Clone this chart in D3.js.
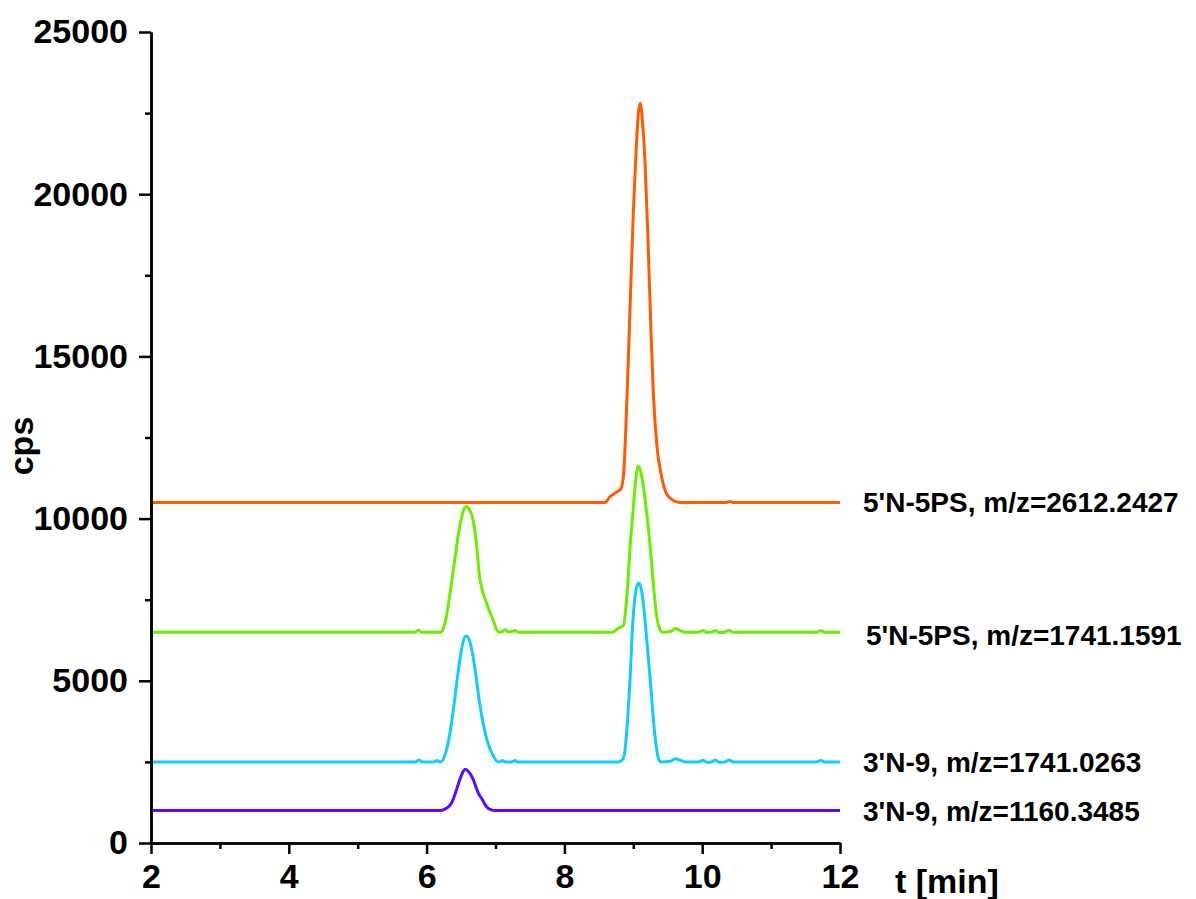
<!DOCTYPE html>
<html>
<head>
<meta charset="utf-8">
<script src="https://cdn.jsdelivr.net/npm/d3@7"></script>
<style>
  body { margin: 0; background: #fff; }
  text { font-family: Arial, "Liberation Sans", sans-serif; font-weight: bold; fill: #000; }
</style>
</head>
<body>
<div id="chart"></div>
<script>

// Data (t in min, intensity in cps)

var seriesNames = [
  "5'N-5PS, m/z=2612.2427",
  "5'N-5PS, m/z=1741.1591",
  "3'N-9, m/z=1741.0263",
  "3'N-9, m/z=1160.3485"
];

var seriesColors = ["#ff5a00", "#6aee00", "#0fcdfa", "#5a0aff"];

var orange2612 = [
  [2, 10500], [8.59, 10500], [8.66, 10675], [8.76, 10820], [8.82, 10920], [8.86, 11396],
  [8.90, 13246], [8.95, 16328], [9.00, 19411], [9.04, 21300], [9.07, 22400], [9.10, 22800],
  [9.13, 22300], [9.17, 21000], [9.21, 18800], [9.25, 16200], [9.29, 13900], [9.34, 12300],
  [9.41, 11300], [9.48, 10780], [9.58, 10560], [9.68, 10500], [10.35, 10500], [10.40, 10530],
  [10.45, 10500], [12, 10500]
];

var green1741 = [
  [2, 6500], [5.83, 6500], [5.88, 6560], [5.93, 6500], [6.20, 6500], [6.24, 6600],
  [6.28, 6900], [6.34, 7700], [6.40, 8600], [6.46, 9500], [6.51, 10050], [6.55, 10330],
  [6.58, 10370], [6.62, 10280], [6.67, 10000], [6.72, 9300], [6.77, 8200], [6.82, 7700],
  [6.87, 7400], [6.92, 7100], [6.97, 6850], [7.01, 6600], [7.05, 6500], [7.10, 6520],
  [7.14, 6570], [7.19, 6510], [7.23, 6520], [7.28, 6550], [7.33, 6500], [8.70, 6500],
  [8.78, 6620], [8.86, 6720], [8.89, 7200], [8.92, 8006], [8.95, 9032], [8.99, 10058],
  [9.03, 11088], [9.07, 11620], [9.10, 11500], [9.14, 11088], [9.20, 10058], [9.25, 9032],
  [9.29, 8006], [9.34, 6976], [9.38, 6620], [9.42, 6500], [9.54, 6520], [9.61, 6610],
  [9.68, 6550], [9.76, 6500], [9.95, 6500], [10.01, 6550], [10.07, 6490], [10.13, 6500],
  [10.19, 6550], [10.25, 6490], [10.33, 6500], [10.39, 6560], [10.45, 6500], [11.66, 6500],
  [11.72, 6545], [11.78, 6500], [12, 6500]
];

var cyan1741 = [
  [2, 2500], [5.84, 2500], [5.89, 2555], [5.94, 2500], [6.10, 2500], [6.15, 2540],
  [6.19, 2500], [6.22, 2520], [6.28, 2800], [6.34, 3400], [6.40, 4300], [6.46, 5300],
  [6.51, 6000], [6.55, 6340], [6.58, 6380], [6.62, 6250], [6.67, 5800], [6.72, 5100],
  [6.77, 4300], [6.82, 3700], [6.87, 3227], [6.92, 2900], [6.97, 2680], [7.02, 2520],
  [7.06, 2500], [7.10, 2540], [7.14, 2500], [7.24, 2500], [7.28, 2545], [7.32, 2500],
  [8.78, 2500], [8.84, 2560], [8.88, 2867], [8.92, 3900], [8.95, 4923], [8.99, 6700],
  [9.02, 7500], [9.05, 7900], [9.08, 8006], [9.11, 7880], [9.15, 7300], [9.19, 6400],
  [9.25, 4923], [9.30, 3600], [9.34, 2867], [9.37, 2580], [9.40, 2500], [9.54, 2520],
  [9.61, 2600], [9.68, 2550], [9.76, 2500], [9.95, 2500], [10.01, 2550], [10.07, 2490],
  [10.13, 2500], [10.19, 2550], [10.25, 2490], [10.33, 2500], [10.39, 2560], [10.45, 2500],
  [11.66, 2500], [11.72, 2545], [11.78, 2500], [12, 2500]
];

var purple1160 = [
  [2, 1000], [6.20, 1000], [6.28, 1060], [6.36, 1224], [6.42, 1550], [6.48, 1942],
  [6.53, 2200], [6.56, 2270], [6.60, 2220], [6.68, 1942], [6.72, 1700], [6.75, 1540],
  [6.80, 1370], [6.87, 1119], [6.93, 1030], [7.00, 1000], [12, 1000]
];

var seriesData = [orange2612, green1741, cyan1741, purple1160];
var baselines = [10500, 6500, 2500, 1000];

var xMajor = [2, 4, 6, 8, 10, 12];
var xMinor = [3, 5, 7, 9, 11];
var yMajor = [0, 5000, 10000, 15000, 20000, 25000];
var yMinor = [2500, 7500, 12500, 17500, 22500];

// Chart

var width = 1196;
var height = 899;

var svg = d3.select("#chart").append("svg")
    .attr("width", width)
    .attr("height", height)
    .style("background", "#fff");

var x = d3.scaleLinear().domain([2, 12]).range([151, 840]);
var y = d3.scaleLinear().domain([0, 25000]).range([843, 32]);

var line = d3.line()
    .x(function(d) { return x(d[0]); })
    .y(function(d) { return y(d[1]); })
    .curve(d3.curveMonotoneX);

svg.selectAll(".trace")
    .data(seriesData)
  .enter().append("path")
    .attr("class", "trace")
    .attr("d", line)
    .attr("fill", "none")
    .attr("stroke", function(d, i) { return seriesColors[i]; })
    .attr("stroke-width", 3)
    .attr("stroke-linejoin", "round");

// minor ticks first, then the labelled axes on top

svg.append("g")
    .attr("transform", "translate(" + x.range()[0] + ",0)")
    .call(d3.axisLeft(y).tickValues(yMinor).tickSize(6).tickSizeOuter(0).tickFormat(""));

svg.append("g")
    .attr("transform", "translate(0," + y.range()[0] + ")")
    .call(d3.axisBottom(x).tickValues(xMinor).tickSize(6).tickSizeOuter(0).tickFormat(""));

var yAxis = svg.append("g")
    .attr("transform", "translate(" + x.range()[0] + ",0)")
    .call(d3.axisLeft(y).tickValues(yMajor).tickSize(12).tickSizeOuter(0).tickPadding(11)
        .tickFormat(d3.format("d")));

var xAxis = svg.append("g")
    .attr("transform", "translate(0," + y.range()[0] + ")")
    .call(d3.axisBottom(x).tickValues(xMajor).tickSize(11).tickSizeOuter(0).tickPadding(10)
        .tickFormat(d3.format("d")));

svg.selectAll(".domain, .tick line")
    .attr("stroke", "#000")
    .attr("stroke-width", 2.5);

svg.selectAll(".tick text")
    .style("font-size", "34px")
    .style("font-family", "Arial, 'Liberation Sans', sans-serif")
    .style("font-weight", "bold")
    .attr("fill", "#000");

// axis titles

svg.append("text")
    .attr("transform", "translate(33,446) rotate(-90)")
    .attr("text-anchor", "middle")
    .style("font-size", "34px")
    .text("cps");

svg.append("text")
    .attr("x", 895)
    .attr("y", 893)
    .style("font-size", "34px")
    .text("t [min]");

// trace labels at the right end of each baseline

svg.selectAll(".label")
    .data(seriesNames)
  .enter().append("text")
    .attr("class", "label")
    .attr("x", function(d, i) { return i == 1 ? 866 : 863; })
    .attr("y", function(d, i) { return y(baselines[i]) + (i == 1 ? 3 : 0); })
    .attr("dy", "0.36em")
    .style("font-size", "28px")
    .text(function(d) { return d; });

</script>
</body>
</html>
